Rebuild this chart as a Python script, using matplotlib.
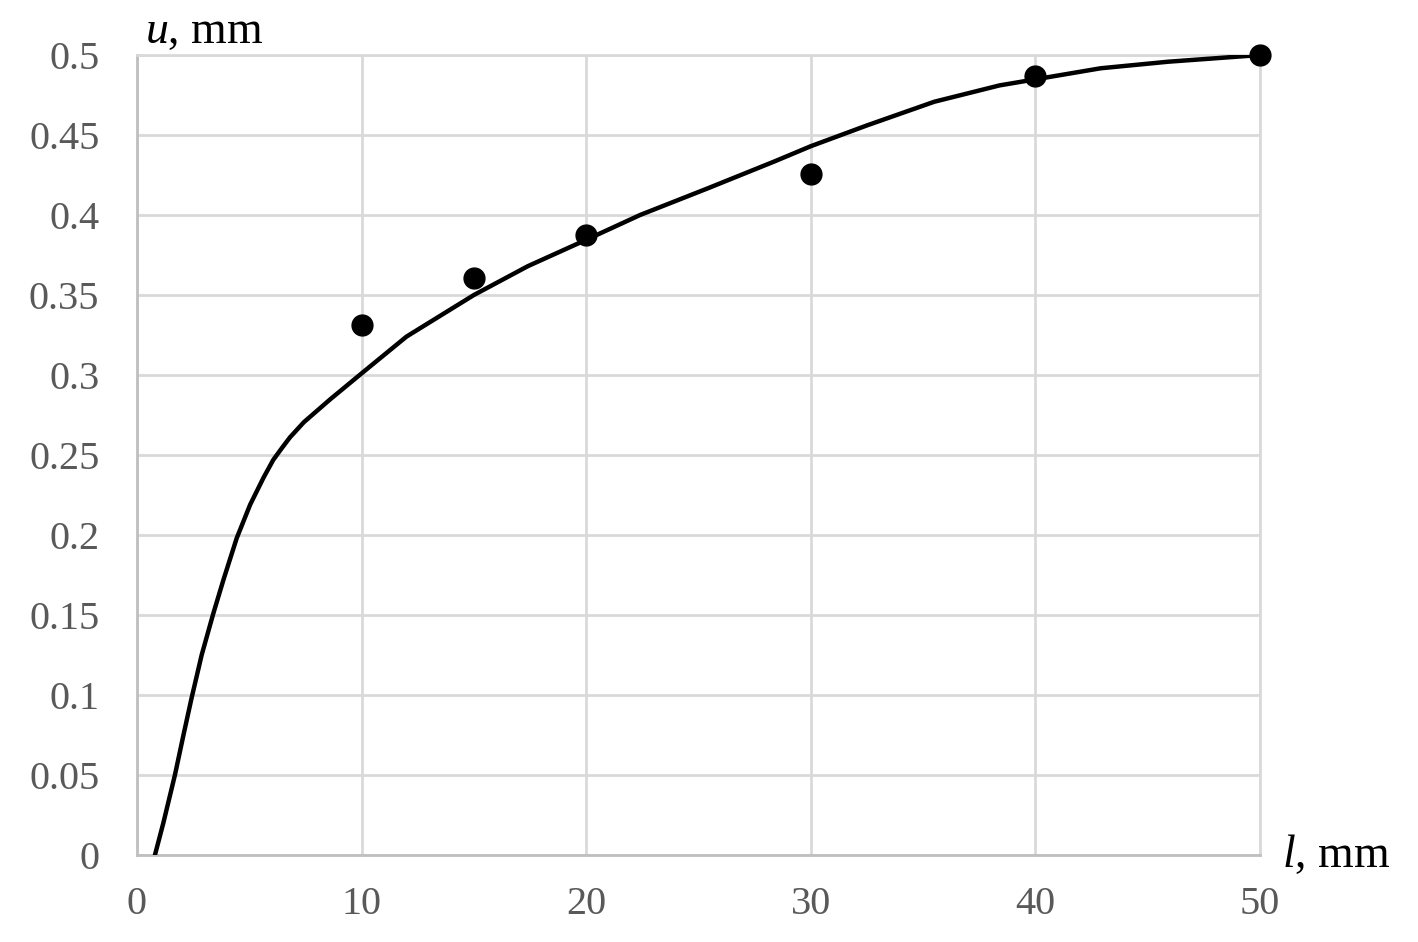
import matplotlib
matplotlib.use("Agg")
from matplotlib import pyplot as plt

plt.rcParams['font.family'] = ['Liberation Serif', 'DejaVu Serif']
plt.rcParams['mathtext.fontset'] = 'custom'
plt.rcParams['mathtext.rm'] = 'Liberation Serif'
plt.rcParams['mathtext.it'] = 'Liberation Serif:italic'

# measured points
l_meas = [10, 15, 20, 30, 40, 50]
u_meas = [0.331, 0.3605, 0.3875, 0.4255, 0.4867, 0.5]

# calculated curve
l_calc = [0.8, 1.17, 1.69, 2.07, 2.43, 2.88, 3.4, 3.85, 4.44, 5.04, 5.64,
          6.07, 6.46, 6.81, 7.43, 8.62, 10, 12, 15, 17.4, 20, 22.4, 25.4,
          28.35, 30, 32.5, 35.5, 38.4, 40, 42.9, 45.9, 50]
u_calc = [0.0, 0.0198, 0.05, 0.075, 0.098, 0.125, 0.151, 0.172, 0.198,
          0.219, 0.236, 0.247, 0.2545, 0.261, 0.2705, 0.285, 0.301, 0.324,
          0.350, 0.368, 0.3845, 0.400, 0.4166, 0.4333, 0.443, 0.456, 0.4708,
          0.481, 0.4848, 0.4917, 0.4958, 0.5]

x_ticks = [0, 10, 20, 30, 40, 50]
y_ticks = [0, 0.05, 0.1, 0.15, 0.2, 0.25, 0.3, 0.35, 0.4, 0.45, 0.5]

fig = plt.figure(figsize=(14.18, 9.42), dpi=100)
ax = fig.add_axes([0.0966, 0.0924, 0.792, 0.8492])

ax.plot(l_calc, u_calc, color='black', lw=3.2, zorder=3,
        solid_joinstyle='round', solid_capstyle='round')
ax.plot(l_meas, u_meas, 'o', color='black', ms=15, zorder=4, clip_on=False)

ax.set_xlim(0, 50)
ax.set_ylim(0, 0.5)
ax.set_xticks(x_ticks)
ax.set_yticks(y_ticks)
ax.set_xticklabels([f'{v:g}' for v in x_ticks])
ax.set_yticklabels([f'{v:g}' for v in y_ticks])
ax.tick_params(length=0, labelsize=29, labelcolor='#595959')
ax.tick_params(axis='y', pad=27)
ax.tick_params(axis='x', pad=22)

ax.grid(True, color='#D9D9D9', lw=2)
ax.set_axisbelow(True)
for s in ['top', 'right']:
    ax.spines[s].set_color('#D9D9D9')
    ax.spines[s].set_linewidth(2)
for s in ['left', 'bottom']:
    ax.spines[s].set_color('#BFBFBF')
    ax.spines[s].set_linewidth(2)

ax.text(0.007, 1.015, r'$u$, mm', transform=ax.transAxes, fontsize=33,
        ha='left', va='baseline')
ax.text(1.02, -0.015, r'$l$, mm', transform=ax.transAxes, fontsize=33,
        ha='left', va='baseline')

fig.savefig('out.png', dpi=100)
